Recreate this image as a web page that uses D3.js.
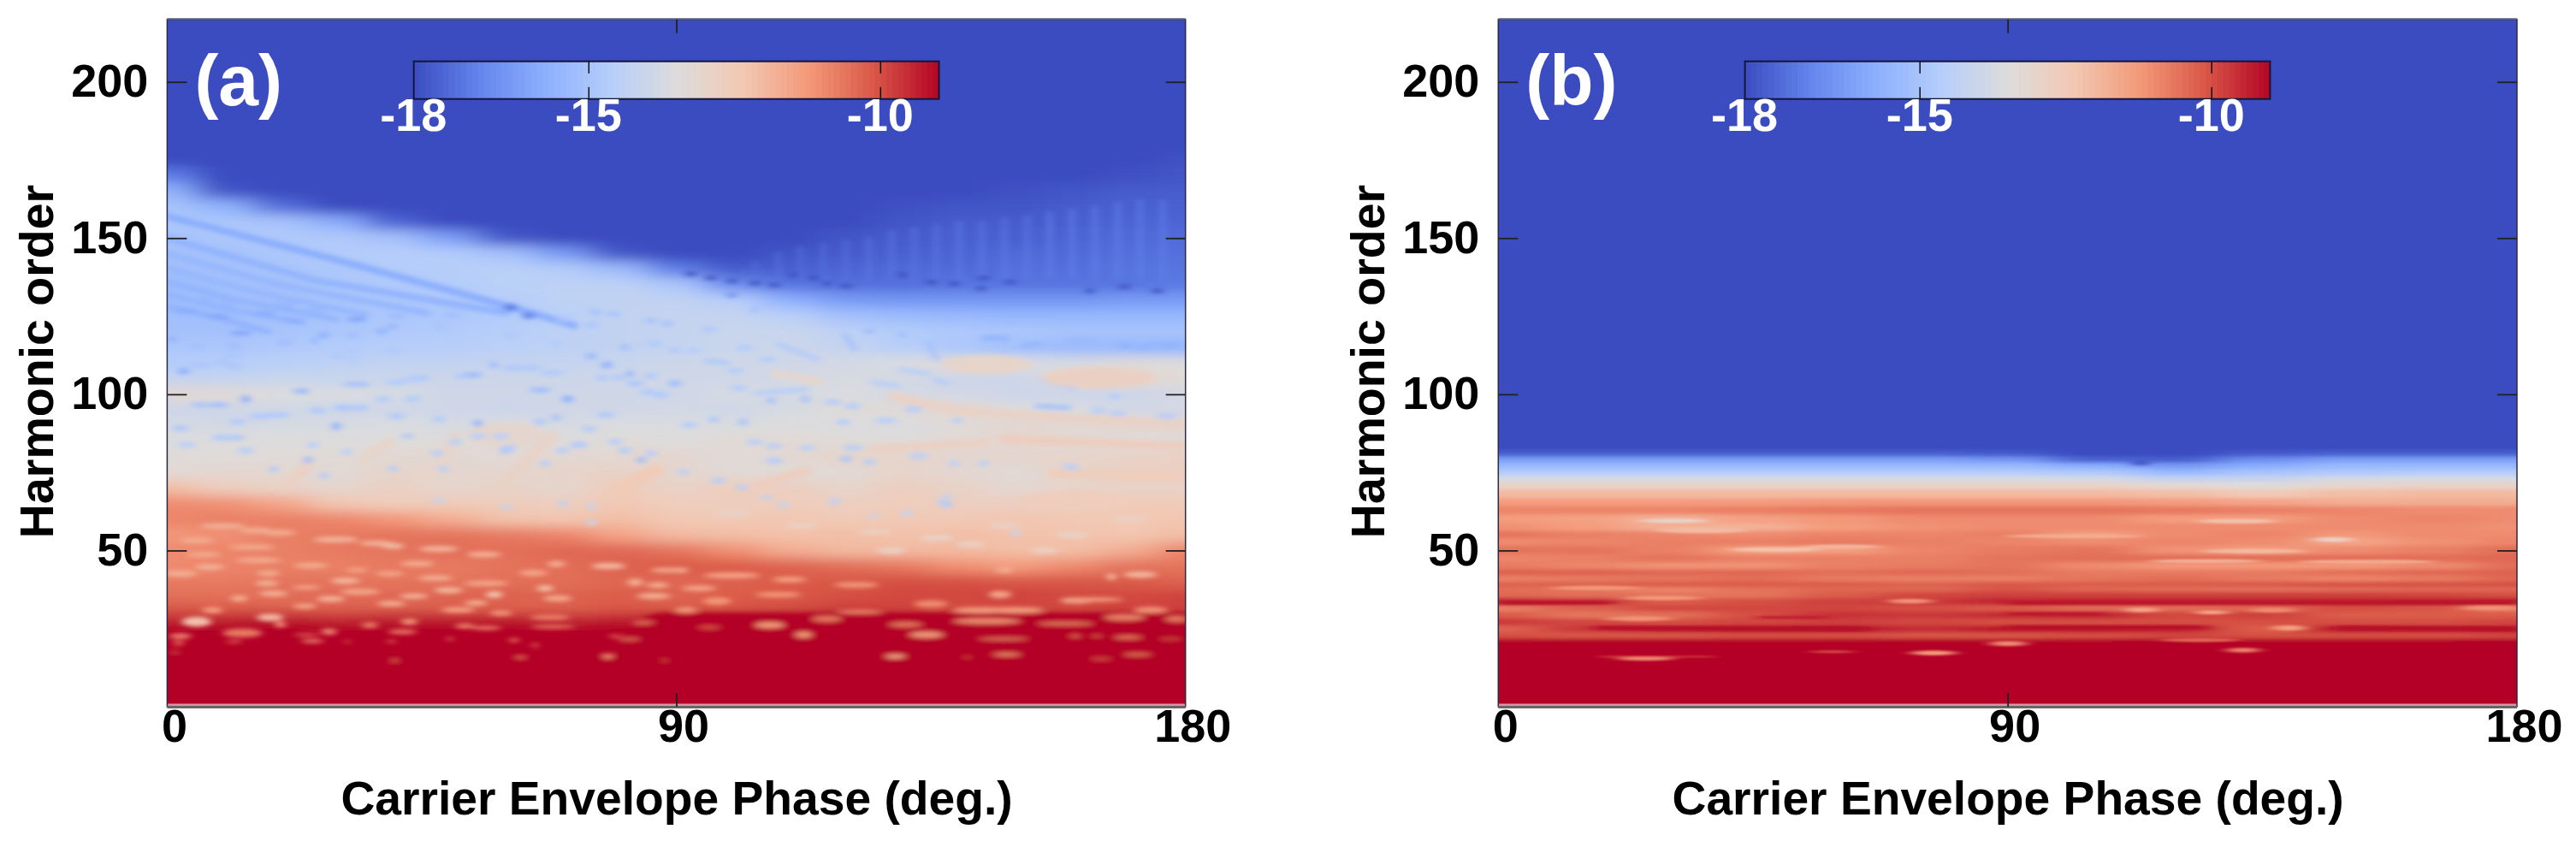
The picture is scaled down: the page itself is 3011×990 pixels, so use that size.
<!DOCTYPE html>
<html><head><meta charset="utf-8">
<script src="https://cdn.jsdelivr.net/npm/d3@7"></script>
<style>html,body{margin:0;padding:0;background:#fff}svg{display:block}text{font-family:"Liberation Sans",Arial,sans-serif;font-weight:700}</style>
</head><body><div id="chart"></div>
<script>
// ---- shared categories / ticks ----
const xTicks=[0,90,180];
const yTicks=[50,100,150,200];
const cbTicks=[-18,-15,-10];
const cbValues=d3.range(-18,-9,0.1);
const colorStopsV=[-18,-16.875,-15.75,-14.625,-13.5,-12.375,-11.25,-10.125,-9];
const colorStopsC=["#3b4cc0","#6485ec","#8db0fe","#b6cefa","#dddcdc","#f2c9b4","#f49a7b","#d95847","#b40426"];
const xTitle="Carrier Envelope Phase (deg.)";
const yTitle="Harmonic order";

// ---- panel (a) grid ----
const phasesA=[0,10,20,30,40,50,60,70,80,90,100,110,120,130,140,150,160,170,180];
const ordersA=[220,190,180,175,170,165,160,155,150,145,140,135,130,125,120,115,110,105,100,95,90,85,80,75,70,65,60,55,50,45,40,35,31,29,25,10,0];
const valuesA=[
[-18.5,-18.5,-18.5,-18.5,-18.5,-18.5,-18.5,-18.5,-18.5,-18.5,-18.5,-18.5,-18.5,-18.5,-18.5,-18.5,-18.5,-18.5,-18.5],
[-18.5,-18.5,-18.5,-18.5,-18.5,-18.5,-18.5,-18.5,-18.5,-18.5,-18.5,-18.5,-18.5,-18.5,-18.5,-18.5,-18.5,-18.5,-18.4],
[-18.5,-18.5,-18.5,-18.5,-18.5,-18.5,-18.5,-18.5,-18.5,-18.5,-18.5,-18.5,-18.5,-18.5,-18.5,-18.5,-18.3,-18.2,-18.1],
[-18.5,-18.5,-18.5,-18.5,-18.5,-18.5,-18.5,-18.5,-18.5,-18.5,-18.5,-18.5,-18.5,-18.5,-18.5,-18.3,-18.1,-18.0,-17.9],
[-17.0,-18.5,-18.5,-18.5,-18.5,-18.5,-18.5,-18.5,-18.5,-18.5,-18.5,-18.5,-18.5,-18.5,-18.3,-18.1,-18.0,-17.9,-17.8],
[-15.6,-17.8,-18.5,-18.5,-18.5,-18.5,-18.5,-18.5,-18.5,-18.5,-18.5,-18.5,-18.4,-18.2,-18.0,-17.9,-17.8,-17.7,-17.7],
[-15.0,-15.6,-17.3,-18.4,-18.5,-18.5,-18.5,-18.5,-18.5,-18.5,-18.5,-18.3,-18.1,-17.9,-17.8,-17.8,-17.7,-17.6,-17.6],
[-14.9,-14.9,-15.0,-15.8,-17.5,-18.3,-18.5,-18.5,-18.5,-18.5,-18.4,-18.2,-18.0,-17.8,-17.7,-17.7,-17.6,-17.5,-17.5],
[-15.1,-14.9,-14.8,-14.8,-15.1,-16.2,-17.8,-18.4,-18.5,-18.4,-18.2,-18.0,-17.8,-17.7,-17.6,-17.6,-17.5,-17.4,-17.4],
[-15.1,-15.1,-14.9,-14.7,-14.6,-14.7,-15.1,-16.3,-17.8,-18.3,-18.1,-17.8,-17.7,-17.6,-17.5,-17.4,-17.4,-17.3,-17.3],
[-15.2,-15.1,-15.0,-14.9,-14.7,-14.6,-14.5,-14.7,-15.3,-17.0,-17.7,-17.6,-17.5,-17.4,-17.4,-17.3,-17.3,-17.2,-17.2],
[-15.3,-15.2,-15.1,-14.9,-14.8,-14.7,-14.5,-14.4,-14.4,-14.9,-16.6,-17.2,-17.3,-17.3,-17.2,-17.2,-17.2,-17.2,-17.1],
[-15.3,-15.2,-15.1,-15.0,-14.9,-14.8,-14.6,-14.4,-14.3,-14.3,-14.6,-15.7,-16.3,-16.4,-16.4,-16.4,-16.4,-16.3,-16.3],
[-15.2,-15.2,-15.1,-15.0,-14.9,-14.9,-14.7,-14.5,-14.3,-14.2,-14.2,-14.5,-15.1,-15.3,-15.4,-15.5,-15.5,-15.5,-15.5],
[-15.1,-15.1,-15.0,-14.9,-14.8,-14.7,-14.6,-14.4,-14.3,-14.2,-14.1,-14.1,-14.4,-14.7,-14.8,-14.9,-15.0,-15.0,-15.0],
[-14.9,-14.9,-14.8,-14.7,-14.6,-14.6,-14.5,-14.4,-14.3,-14.2,-14.1,-14.0,-14.2,-14.6,-14.9,-15.2,-15.4,-15.5,-15.6],
[-14.7,-14.6,-14.5,-14.4,-14.3,-14.3,-14.2,-14.2,-14.1,-14.0,-13.9,-13.9,-13.8,-13.6,-13.4,-13.6,-13.7,-13.4,-13.5],
[-14.2,-14.2,-14.1,-14.1,-14.0,-14.0,-14.0,-14.0,-13.9,-13.9,-13.9,-13.8,-13.7,-13.8,-14.0,-14.0,-13.3,-13.2,-13.3],
[-13.2,-13.3,-13.5,-13.6,-13.7,-13.9,-13.9,-13.9,-13.9,-13.9,-13.7,-13.8,-13.6,-13.8,-13.8,-14.0,-14.0,-14.0,-13.8],
[-14.0,-14.0,-13.9,-13.9,-13.9,-13.9,-14.0,-13.9,-13.9,-13.8,-13.9,-13.7,-13.4,-13.3,-13.2,-13.5,-13.6,-13.8,-13.8],
[-13.7,-13.8,-13.7,-13.7,-13.6,-13.7,-13.6,-13.7,-13.6,-13.6,-13.6,-13.5,-13.6,-13.6,-13.4,-13.1,-13.2,-13.1,-13.1],
[-13.6,-13.5,-13.5,-13.5,-13.5,-13.4,-13.3,-13.5,-13.4,-13.5,-13.3,-13.3,-13.4,-13.4,-13.3,-13.2,-13.4,-13.5,-13.4],
[-13.4,-13.4,-13.4,-13.3,-13.2,-13.2,-13.3,-13.2,-13.2,-13.1,-13.4,-13.2,-13.0,-13.0,-13.1,-13.1,-13.0,-12.9,-12.8],
[-13.3,-13.2,-13.2,-13.3,-13.0,-13.1,-13.1,-13.0,-12.9,-13.1,-13.3,-13.4,-13.3,-13.0,-13.2,-13.3,-13.0,-12.8,-12.8],
[-12.1,-12.6,-12.9,-13.1,-12.8,-13.1,-12.9,-13.1,-12.5,-12.9,-12.6,-12.7,-13.0,-12.7,-12.9,-13.2,-13.0,-12.9,-12.9],
[-11.0,-11.1,-11.5,-12.3,-12.6,-12.5,-12.6,-12.7,-12.4,-12.6,-12.7,-12.6,-12.7,-12.6,-12.7,-12.7,-12.6,-12.5,-12.5],
[-10.9,-10.8,-10.8,-10.9,-11.2,-11.7,-12.2,-12.3,-12.1,-12.4,-12.4,-12.3,-12.5,-12.4,-12.4,-12.3,-12.4,-12.4,-12.3],
[-11.2,-11.1,-10.8,-10.7,-10.6,-10.6,-10.7,-10.9,-11.5,-12.0,-12.1,-12.2,-12.1,-12.2,-12.1,-12.2,-12.2,-12.3,-12.1],
[-11.0,-10.9,-10.8,-10.7,-10.6,-10.5,-10.5,-10.4,-10.4,-10.6,-11.1,-11.7,-12.0,-12.0,-12.0,-12.1,-12.1,-11.7,-10.9],
[-11.0,-10.9,-10.8,-10.8,-10.7,-10.7,-10.6,-10.5,-10.3,-10.2,-10.2,-10.3,-10.5,-10.7,-11.1,-11.3,-11.0,-10.6,-10.6],
[-10.7,-10.7,-10.6,-10.6,-10.6,-10.6,-10.5,-10.5,-10.4,-10.4,-10.3,-10.2,-10.1,-10.0,-10.0,-10.1,-10.1,-10.2,-10.3],
[-10.5,-10.5,-10.5,-10.4,-10.4,-10.3,-10.3,-10.3,-10.2,-10.3,-10.2,-10.1,-10.0,-9.9,-9.9,-9.8,-9.9,-9.9,-9.8],
[-10.1,-10.2,-10.3,-10.3,-10.3,-10.3,-10.3,-10.3,-10.2,-10.2,-10.1,-10.0,-9.8,-9.9,-10.0,-10.0,-10.0,-9.9,-9.9],
[-9.6,-9.5,-9.3,-9.6,-9.4,-9.4,-9.4,-9.6,-9.4,-9.0,-9.0,-9.0,-9.0,-9.0,-9.0,-9.0,-9.0,-9.0,-9.0],
[-9,-9,-9,-9,-9,-9,-9,-9,-9,-9,-9,-9,-9,-9,-9,-9,-9,-9,-9],
[-9,-9,-9,-9,-9,-9,-9,-9,-9,-9,-9,-9,-9,-9,-9,-9,-9,-9,-9],
[-9,-9,-9,-9,-9,-9,-9,-9,-9,-9,-9,-9,-9,-9,-9,-9,-9,-9,-9]
];
// thin ridges read from (a): value, width in orders, then phase/order pairs
const ridgesA=[
[-8.9,30,[88,15],[184,15]],
[-8.9,17,[-8,8.5],[92,8.5]],
[-15.8,2.2,[0,157],[30,143],[61,127.8],[72,122]],
[-15.6,2.1,[0,150],[26,136.5],[60,126]],
[-15.5,2,[0,145],[20,135],[46,126]],
[-15.5,1.9,[0,140.5],[15,133],[35,125.5]],
[-15.6,1.8,[0,136],[14,129.5],[30,124]],
[-15.6,1.7,[0,132],[10,127.5],[24,123]],
[-15.7,1.6,[0,128],[8,125],[18,120]],
[-17.2,1,[104,137],[104,142]],[-17.2,1,[108,137],[108,145]],[-17.2,1,[112,137],[112,147]],[-17.2,1,[116,137],[116,148]],[-17.2,1,[120,137],[120,149]],[-17.1,1,[124,137],[124,150]],[-17.1,1,[128,137],[128,152]],[-17.1,1,[132,137],[132,153]],[-17.1,1,[136,137],[136,154]],[-17.0,1,[140,137],[140,155]],[-17.0,1,[144,137],[144,155]],[-17.0,1,[148,137],[148,156]],[-17.0,1,[152,137],[152,157]],[-16.9,1,[156,137],[156,158]],[-16.9,1,[160,137],[160,159]],[-16.9,1,[164,137],[164,160]],[-16.9,1,[168,137],[168,161]],[-16.9,1,[172,137],[172,162]],[-16.9,1,[176,137],[176,162]],
[-15.6,1.6,[144.3,118],[148.4,117.9]],[-15.5,1.6,[151.3,115.3],[154.2,116.2]],[-15.4,1.6,[159.4,117.2],[164,117.2]],
[-15.6,1.6,[168.6,115.6],[170.3,115.6]],[-15.6,1.6,[172,114.9],[174.4,115.8]],[-15.6,1.6,[176.1,115.3],[178.4,115.8]],
[-15.2,1.3,[134.5,116.7],[136,111.2]],[-15.3,1.3,[119.8,119],[121.5,114.4]],[-14.8,1.3,[107.9,116.2],[114.9,111.2]],
[-14.9,1.3,[95.2,110.8],[99,109.9]],[-15.2,1.4,[153.6,96.2],[159.4,95.7]],[-14.7,1.2,[129.3,108],[134.5,106.7]],
[-14.8,1.2,[135.7,104.8],[138,103.5]],[-14.7,1.2,[154.7,104.4],[160.5,101.6]],[-14.7,1.2,[124.7,103.9],[129.3,102.6]],
[-14.7,1.2,[103.9,100.3],[113.1,101.6]],
[-12.9,3,[128.2,99.4],[139.7,94.8],[153.6,93],[179.6,90.2]],
[-13.1,2.5,[107.3,106.7],[115.4,103.9]],
[-12.7,3,[147.8,85.7],[179.6,83.4]],
[-12.8,2.5,[124.7,82.5],[144.9,84.7]],
[-12.6,3,[156.5,74.7],[179.6,73.8]],
[-12.7,3,[104.5,71],[113.1,75.6]],
[-12.8,3.4,[20.8,70.2],[24.9,77.5]],
[-13.0,3,[34.7,79.3],[39.3,84.8]],
[-12.9,3.4,[57.8,69.2],[68.2,86.6]],
[-12.5,4,[79.8,70],[86.7,75.6]],
[-13.0,3,[46.2,72],[50.9,86.6]]
];
// blobs: phase, order, half-width in deg, half-height in order, value
const spotsA=[
[9.8,57.8,4,.9,-11.8],[15.6,56.4,3,.9,-11.7],[19.7,55.7,3,.9,-11.7],[5.2,53.2,3,.9,-11.7],[29.8,53.5,4,.9,-11.9],[37,52.3,3,.9,-11.8],[39.9,51.4,2,.9,-12],[15,51.1,4,.9,-11.6],[48,50.5,3.5,.9,-11.9],[56,48.7,3,1,-11.7],[6.4,48.7,3,.9,-11.6],[16.2,46.9,4,.9,-11.6],[25.4,45.2,3,.9,-11.7],[7.5,44.7,2.5,1,-11.8],[44.2,45.8,3,.9,-11.7],[68.8,45.7,1.6,1,-11.7],[78,45,3,1,-12],[88.4,43.7,3,.8,-11.6],[64.7,42.8,2.5,1,-11.5],[2.3,42.6,3,1.1,-11.7],[17.9,42.7,2,1,-11.6],[33.5,43.7,2,.8,-11.4],[39.3,42.6,2.5,.9,-11.5],[47.4,41.2,3,.9,-11.7],[31.5,40.3,2.5,1,-11.9],[17.6,39.5,2,1,-11.7],[56.4,39.5,4,.9,-11.5],[82.7,39.8,1.4,1.2,-11.7],[86.7,38.9,2,.9,-11.7],[66.8,37.9,1.5,1,-12.1],[24.6,38.2,2.5,.7,-11.5],[49.7,37.3,2.5,1,-11.9],[34.1,36.8,3.5,1,-11.5],[18.8,36.2,2.5,.9,-11.8],[57.8,35.9,1.5,1.1,-12.2],[43.6,35.4,2.5,.9,-11.8],[12.7,34.7,1.5,1,-11.7],[28.9,34.5,2.5,1,-11.8],[69,34.7,2.5,1,-11.6],[86,35.4,3,1,-11.7],[54.6,33.2,2,.9,-11.7],[39.6,33,2.5,.9,-11.7],[24.3,32.2,2,.9,-11.5],[8,30.9,1.8,1,-11.4],[51.4,31,3,.9,-11.4],[59,30,2,.9,-11.2],[18.2,28.6,2.4,1.2,-12],[5.2,27.2,2.6,1.6,-12.2],[20,26.3,1,1,-11.2],[42.8,27.2,1.5,1,-11.2],[67.6,28.6,3.5,.8,-10.9],[35.8,26.1,1.5,1,-10.7],[52.6,25.8,1.8,.8,-10.9],[56.4,25.2,2.6,.7,-10.8],[68.2,25.6,4,.6,-10.7],[84.1,26.9,2,.6,-10.5],[13.3,23.6,3.5,1.4,-10.7],[28.6,24,1.4,1,-11],[41.6,24,2.6,.8,-10.7],[2.3,22.6,2,.9,-10.9],[2,20.4,1,.8,-10.4],[25.7,21,2,.6,-11],[24.6,23,2.2,.6,-10.1],[11.8,20.8,1.5,.4,-10.6],[31.8,20.8,.5,.4,-10.6],[39.6,20.8,.8,.4,-10.6],[50,21.7,.5,.6,-10.6],[61.3,21.3,.9,.7,-10.6],[65,19.7,.5,.6,-10.9],[79.2,22.6,1.2,.5,-10.4],[81.5,21.6,2,.4,-10.6],[1.4,17.8,.4,.5,-10.6],[40.2,14.8,.6,.5,-10.4],[62.4,15.8,1,.4,-10.6],[77.9,16.2,.9,.9,-11],[87.9,14.8,.4,.5,-10.2],
[90.9,43.7,1.2,.9,-11.7],[99.8,42,5,.9,-11.5],[110,40.7,3,.9,-11.4],[94,37.9,3,.9,-11.5],[121.8,39,4,.9,-11.2],[108,35.9,4,.9,-11.2],[97.2,33.8,2.5,1.2,-11.2],[91.7,31,2,1,-11.2],[147.2,35.9,2,1.2,-11.5],[148,43.8,1.5,1,-11.7],[166.9,41.6,.8,1,-12.2],[172,42.3,3,1,-12],[160.8,34,3,.9,-11.8],[164,34.3,5,.7,-11.4],[135,32.9,3,1.2,-11],[143.8,30.9,5,1,-11.3],[150,30.9,5,1,-11.3],[173.8,31,3,1,-11.2],[122.4,30.4,4,.7,-10.9],[106.5,26.1,2.6,1,-11.2],[116.6,28.1,2.6,1,-10.6],[130.5,26.3,3,.8,-10.6],[112.5,23,1.5,1,-11.2],[134.2,23,3,1,-11.2],[144.9,27.4,6,.9,-11],[158.8,26.6,5,.6,-10.6],[169.2,28.6,3.6,1,-10.8],[178.4,28.1,2,1,-10.6],[95.8,25.4,2,.6,-10],[147.8,21.7,4.5,.4,-10.8],[169.8,22.2,2.5,.6,-10.6],[160.5,22.6,1,.5,-10.4],[164.3,22.6,1,.4,-10.2],[177.3,21.7,2,.3,-10.2],[128.7,16.1,1.8,.7,-11.5],[148.4,16.7,2.5,.6,-10.8],[171.5,16.7,2.4,.5,-10.6],[165.1,15.3,1.8,.4,-10.1],[141.4,15.8,.8,.3,-10],
// pale blobs in the upper part of the warm band
[100,62,3,1,-12.9],[112,58,3,1,-12.8],[125,56,3,1,-12.7],[136,54,3,1,-12.9],[148,58,3,1,-12.8],[160,55,3,1,-12.9],[170,60,3,1,-12.8],[128,50,2.5,1,-12.9],[155,50,2.5,1,-12.8],[142,52,2.5,1,-12.8],
// peach blobs
[144.9,109.4,8,3,-13.0],[164.6,105.3,10,3.5,-12.8],[60,87,7,4,-13.1],[160,66,10,3,-12.6],
// dark-blue flecks
[60.7,127.8,1.2,1.2,-17],[63.9,125.2,1.2,1.1,-16.8],[2.9,107.4,1,1,-15.8],[13.9,98.5,.9,1.2,-15.6],[23.7,101,1.5,.8,-15.5],[29.9,89.8,.8,1.2,-15.7],[54.9,90.7,.8,1.1,-15.6],[70.8,98.5,1,1.1,-15.8],[77.7,109.4,1,1.1,-15.7],[81.8,106.5,.6,1.1,-15.6],[24.9,79,.9,1,-15.3],[83.8,79,.8,1,-15.4],[27.7,119,1,1,-15.7],[37.9,120.2,1,1,-15.6],[39.9,121.7,.7,1,-15.6],[33.5,124,1.8,.8,-16],[13,119.6,2,.8,-16],[9,124.9,2,.8,-16],[17.3,125.9,1.8,.8,-15.9],[3.2,126.8,2,.8,-15.9],[22.5,123.6,1.8,.7,-15.9],[.9,117.6,.8,1,-15.6],[26,117.2,.8,1,-15.4],[74.9,112.2,1,1,-15.4],[57.8,109.4,.8,1,-15.3],[80.9,115.1,.8,1,-15.2],[53.8,106.2,2,.8,-15.4],[44.5,105.3,2,.8,-15.2],[33.5,103.2,2.5,.7,-15.2],[65.9,101.4,2,.8,-15.3],[89.6,103.5,1,1,-15.3],[68.8,92.5,.8,1,-15.2],[59.8,82,.9,1,-15.2],[9,96.6,2,.7,-15.3],[5.8,96.6,1.5,.7,-15.2],[11.8,86.1,2,.7,-15.1],[42.5,86.6,1,.7,-15.1],[18.8,76,.8,1,-14.8],[27.7,74,.8,1,-14.8],[2.3,89.2,1.5,.8,-15],[72.8,83.8,1.5,.8,-15],
[106.8,98,.8,1,-15.2],[112.8,98.4,.8,1,-15.2],[101.8,91.1,.8,1.2,-15],[96.6,92,.8,1,-15],[120,79.3,1,1,-15],[97.5,72.4,1,1,-15],[107.9,78.8,.7,1,-14.9],[90.3,103.5,.6,1,-15.2],[103.9,127.2,.7,1.1,-15.1],[99.8,131.8,1,.8,-16.5],[124.1,120.2,1,.8,-15.3],[129.9,119,.8,.8,-15.3],
// pale-blue mottling
[11.6,112.6,2,1,-14.9],[5.8,109.4,2,1,-14.9],[9.8,110.3,1.5,1,-14.9],[11.8,109,1.5,1,-14.9],[30,112.2,1.2,1,-14.8],[32.9,114,1.2,1,-14.8],[32.9,111.2,1.2,1,-14.7],[39.9,114,1.2,1,-14.8],[42.8,118.1,1.2,1,-14.7],[49.7,119.9,1.2,1,-14.8],[60.7,119,1.2,1,-14.8],[68.8,116.3,1.2,1,-14.7],[61.3,108.5,2,1,-14.8],[64.2,108.5,2,1,-14.8],[68.2,106.9,2,1,-14.7],[76.9,105.3,1.2,1,-14.8],[79.8,105.3,1.2,1,-14.8],[82.7,103.5,1.5,1,-14.9],[85.5,105.8,1.2,1,-14.8],[85,100.7,1.4,1,-14.8],[87.3,99.8,1.5,1,-14.8],[89.6,114,1.2,1,-14.7],[86.1,116.3,1.5,1,-14.7],[43.9,104.9,2,1,-14.7],[40.5,103.9,2,1,-14.7],[52,105.8,1.2,1,-14.8],[31.2,95.7,2,1,-14.9],[26.6,94.8,1.5,1,-14.8],[16.8,93,2.5,.9,-14.8],[19.7,93.4,2,.9,-14.8],[12.4,91.2,1.5,.9,-14.8],[9.8,86.1,2,1,-14.7],[40.5,93,1.5,1,-14.8],[48,92.1,1.2,1,-14.7],[34.1,95.7,1.5,1,-14.8],[38.2,98.5,1.5,1,-14.7],[43.4,98.5,1.5,1,-14.7],[65.9,91.2,1.2,1,-14.8],[77.5,93.4,1.5,1,-14.8],[74.6,88.9,1.2,1,-14.7],[72.8,83.8,1.6,1,-14.8],[60.4,82.9,1.4,1,-14.7],[69.9,82,1.2,1,-14.6],[80.9,82,1.2,1,-14.7],[85.5,81.1,1,1,-14.6],[54.9,86.6,1.4,1,-14.6],[50.9,84.8,1,1,-14.7],[59,86.6,1.4,1,-14.6],[47.7,81.1,1,1,-14.7],[39.9,76.1,.9,1,-14.6],[48.8,76.1,.9,1,-14.6],[66.8,77.9,.9,1,-14.6],[31.8,81.6,1,1,-14.5],[25.7,83.8,1,1,-14.6],[3.5,83.8,1.5,.9,-14.6],[13.9,82,1.5,.9,-14.6],[79.2,84.8,1.2,1,-14.6],
[5.8,130.4,2.5,.9,-15.5],[11.6,129.5,2.5,.9,-15.5],[20.2,128.6,2.5,.9,-15.5],[26,126.8,2,.9,-15.4],[40.5,125,1.5,.9,-15.3],[50.3,125.4,1.5,.9,-15.2],[69.9,124,1.2,1,-15],[75.7,126.3,1.2,.9,-15],[78.9,125.7,1.2,.9,-15],[85.5,123.6,1.2,.9,-15],[88.4,122.6,1.2,.9,-15],[75.1,122.2,1.2,1,-14.9],[48,121.7,1.2,1,-15],[32.9,119,1.2,1,-15.2],[20.8,116.7,1.5,1,-15.2],[11.8,115.4,1.5,1,-15.2],[5.2,115.4,1.5,1,-15.1],
[95.8,120.8,1.5,.9,-14.8],[102.1,114.9,1.5,.9,-14.7],[106.2,111.2,1.5,.9,-14.7],[100.4,107.6,1.5,.9,-14.7],[92.9,114,1.5,.9,-14.6],[101,102,1.5,.9,-14.7],[92.3,90.2,1.5,.9,-14.7],[103.9,84.7,1.5,.9,-14.6],[107.3,83.4,1.5,.9,-14.6],[113.1,82.9,1.5,.9,-14.5],[121.2,82.9,1.8,.9,-14.6],[124.1,78.3,1,.9,-14.7],[132.8,80.2,1.6,1,-14.5],[139.1,77.9,1,.9,-14.5],[144.3,77.9,1,.9,-14.5],[159.4,77,1.2,.9,-14.4],[91.2,75.1,1,.9,-14.6],[101.6,70.1,1,.9,-14.6],[117.7,97.5,1.5,.9,-14.7],[121.2,96.2,1.5,.9,-14.7],[131.9,95.2,1.5,.9,-14.7],[127,91.6,2,.9,-14.6],[119.5,91.1,1.2,.9,-14.7],[139.7,91.6,1,.9,-14.6],[167.5,99.4,1,.9,-14.7],[168,93.9,1.5,.9,-14.6],[164.6,94.8,1.5,.9,-14.6],[176.7,93,2,.9,-14.6],
[97.2,72.4,1,1,-14.6],[107,78.8,1.2,1,-14.6],[138,64.6,.8,1,-14.8],[138,67.3,.8,.9,-14.4],[150,55.5,.8,.9,-14.2],[130.5,61.9,.8,.9,-14.2],[118,65.5,1,.9,-14.3],[109,64.6,1,.9,-14.2],[160,76.5,1.2,.9,-14.5],[70,65,.8,1,-14.4],[75,64,.7,.9,-14.4],[60,64,.8,.9,-14.4],[75,59,.8,1,-14.2],[48,66,1,.8,-14.3],[106,67,.9,.9,-14.3],[118,66,.8,.8,-14.3],[137,65.5,.8,1,-14.7],[131,62,.8,.9,-14.2],[125,61,.7,.8,-14.2],
// dark dashes along the hatched edge
[92.6,138.6,1.2,.6,-18.5],[96.1,137.3,1.2,.6,-18.5],[99.8,136.3,1.2,.6,-18.5],[103.9,135.6,1.2,.6,-18.5],[107.3,135,1.2,.6,-18.5],[110.8,138.2,1,.6,-18.5],[114.3,137.3,1.2,.6,-18.5],[116.6,135.4,1,.6,-18.5],[120,134.7,1.2,.6,-18.5],[129.9,138.2,1.2,.6,-18.5],[135.1,135.9,1.2,.6,-18.5],[139.1,135.4,1.2,.6,-18.5],[143.8,133.9,1,.6,-18.5],[144.3,137.3,1.2,.6,-18.5],[149,135.9,1.2,.6,-18.5],[163.1,133.1,1,.6,-18.5],[169.2,134.5,1.2,.6,-18.5],[175,133.1,1.2,.6,-18.5]
];

// ---- panel (b) grid ----
const phasesB=[0,15,30,45,60,75,90,105,120,135,150,165,180];
const ordersB=[220,90,83,81,79,77,75,73,71,68,65.5,63,60,57.5,55,53,50,47.5,45,43,41,39,37.5,36,33.5,31.5,29.5,27,25,22.5,21,10,0];
const valuesB=[
[-18.5,-18.5,-18.5,-18.5,-18.5,-18.5,-18.5,-18.5,-18.5,-18.5,-18.5,-18.5,-18.5],
[-18.5,-18.5,-18.5,-18.5,-18.5,-18.5,-18.5,-18.5,-18.5,-18.5,-18.5,-18.5,-18.5],
[-18.4,-18.4,-18.4,-18.4,-18.4,-18.4,-18.4,-18.4,-18.5,-18.4,-18.4,-18.4,-18.4],
[-17.6,-17.6,-17.6,-17.6,-17.6,-17.6,-17.7,-18.0,-18.0,-17.7,-17.6,-17.6,-17.6],
[-16.2,-16.2,-16.2,-16.2,-16.2,-16.2,-16.4,-17.5,-17.6,-16.6,-16.2,-16.2,-16.2],
[-15.4,-15.4,-15.4,-15.4,-15.4,-15.4,-15.4,-15.8,-16.3,-15.8,-15.4,-15.4,-15.4],
[-14.7,-14.7,-14.7,-14.7,-14.7,-14.7,-14.7,-14.8,-15.4,-15.0,-14.8,-14.7,-14.7],
[-13.7,-13.7,-13.7,-13.7,-13.7,-13.7,-13.7,-13.8,-14.3,-14.2,-13.8,-13.7,-13.7],
[-12.9,-12.9,-12.9,-12.9,-12.9,-12.9,-12.9,-12.9,-13.2,-13.4,-13.0,-12.9,-12.9],
[-12.0,-12.0,-12.0,-12.0,-12.0,-12.0,-12.0,-12.0,-12.1,-12.4,-12.1,-12.0,-12.0],
[-11.3,-11.3,-11.3,-11.3,-11.2,-11.2,-11.2,-11.2,-11.3,-11.5,-11.7,-11.7,-11.7],
[-10.9,-10.9,-10.9,-10.8,-10.7,-10.6,-10.6,-10.6,-10.7,-10.8,-10.9,-11.0,-11.0],
[-11.3,-11.4,-11.8,-11.4,-11.2,-11.0,-11.0,-11.0,-11.3,-11.3,-11.0,-10.9,-11.0],
[-11.1,-11.3,-11.7,-11.8,-11.3,-11.1,-11.0,-11.0,-11.0,-11.0,-11.0,-11.0,-11.1],
[-10.6,-10.8,-10.9,-11.0,-10.9,-10.9,-10.8,-11.3,-11.0,-10.9,-11.2,-11.0,-11.0],
[-11.0,-10.9,-10.8,-10.8,-10.7,-10.8,-10.9,-11.0,-10.9,-11.0,-11.5,-11.1,-10.9],
[-10.6,-10.6,-10.8,-11.3,-11.3,-10.9,-10.7,-10.6,-11.1,-11.3,-11.0,-10.8,-10.5],
[-10.9,-10.8,-10.6,-10.8,-10.8,-10.8,-10.6,-10.5,-10.5,-10.5,-10.5,-10.5,-10.4],
[-10.7,-10.9,-11.1,-11.1,-10.8,-10.7,-10.6,-11.0,-11.2,-11.2,-11.2,-11.0,-10.5],
[-10.3,-10.3,-10.4,-10.4,-10.5,-10.4,-10.5,-10.7,-10.7,-10.7,-10.5,-10.4,-10.3],
[-10.8,-10.7,-10.6,-10.5,-10.7,-10.8,-10.8,-10.6,-10.5,-10.7,-10.9,-10.7,-10.4],
[-10.3,-10.3,-10.2,-10.2,-10.2,-10.3,-10.1,-10.2,-10.2,-10.1,-10.0,-10.0,-10.0],
[-10.5,-10.6,-10.9,-10.6,-10.4,-10.4,-10.1,-10.4,-10.5,-10.6,-10.5,-10.4,-10.4],
[-10.4,-10.5,-10.6,-10.6,-10.2,-9.9,-9.8,-9.8,-9.8,-9.8,-9.8,-9.9,-10.0],
[-9.3,-9.5,-10.2,-10.0,-9.8,-9.7,-9.4,-9.3,-9.3,-9.3,-9.3,-9.2,-9.2],
[-10.8,-10.3,-9.9,-9.9,-9.9,-10.0,-10.2,-10.5,-10.5,-10.4,-10.0,-10.1,-10.8],
[-10.2,-10.6,-10.5,-10.0,-9.6,-9.7,-9.5,-9.4,-9.9,-9.8,-10.2,-10.2,-10.2],
[-9.7,-9.9,-10.0,-9.9,-9.8,-9.9,-10.0,-10.0,-10.0,-10.0,-10.0,-10.0,-9.9],
[-10.3,-9.7,-9.3,-9.1,-9.1,-9.5,-9.2,-9.2,-9.4,-10.2,-9.2,-9.2,-9.2],
[-10.0,-10.1,-10.1,-10.0,-10.0,-10.1,-10.1,-10.0,-9.9,-10.0,-10.0,-10.0,-9.9],
[-9,-9,-9,-9,-9,-9,-9,-9,-9,-9,-9,-9,-9],
[-9,-9,-9,-9,-9,-9,-9,-9,-9,-9,-9,-9,-9],
[-9,-9,-9,-9,-9,-9,-9,-9,-9,-9,-9,-9,-9]
];
const ridgesB=[
[-9.1,.9,[0,33.2],[20,33.3]],
[-9.3,.9,[46,28.6],[58,28.6]],
[-9.1,1.3,[17,25.2],[65,24.9]],
[-9.2,.9,[90,33.2],[180,33.2]],
[-9.2,.8,[90,29.8],[107,29.8]],
[-9.1,1.3,[90,25.4],[125,25.4]],
[-9.1,1.3,[148,25.2],[180,24.9]],
[-10.0,.4,[18,16],[38,16]]
];
const spotsB=[
[31,59.5,6,.7,-12.9],[36,56.5,8,1,-12],[49,50.3,8,.8,-12.2],[60.7,51.2,7,.7,-11.9],[17.3,38,8,.7,-11.2],[29,34.8,7,.7,-11.2],[72.8,33.8,4,.8,-11.1],[24.9,28.2,6,.8,-11.1],[26,15.4,5,.7,-10.9],[76.9,17.2,4,.8,-11.2],[59,17.6,4,.4,-10.1],[89.3,20.2,2.5,.8,-11],
[130.5,59.4,7,.7,-12.2],[147.5,53.5,3.5,.8,-12.8],[133.4,49.8,9,.7,-12],[101.6,54.6,12,.6,-11.7],[125,46.6,10,.6,-11.8],[153.6,46.4,12,.6,-11.7],[113.7,31,3,.8,-11.5],[126.1,30.2,3,.7,-11.5],[136.8,30.9,4,.8,-11],[175,31.6,5,.7,-11.1],[139.7,25.2,3,.9,-11.4],[124,21.3,7,.6,-10.4],[131.6,18.1,3,.8,-10.8],[90.9,20.2,2.5,.8,-11],
[113.5,78,1.2,1,-18.5]
];

// ---- drawing ----
const width=3011,height=990;
const color=d3.scaleLinear().domain(colorStopsV).range(colorStopsC).clamp(true);
const svg=d3.select("#chart").append("svg").attr("width",width).attr("height",height).attr("viewBox",[0,0,width,height]);
const defs=svg.append("defs");
function blur(id,sx,sy){defs.append("filter").attr("id",id).attr("filterUnits","userSpaceOnUse")
  .attr("x",0).attr("y",-150).attr("width",width).attr("height",height+300)
  .append("feGaussianBlur").attr("stdDeviation",sx+" "+sy);}
blur("baseA",20,7);blur("baseB",24,2.2);blur("fine",4,2.4);blur("fineB",8,1.2);

function panel(o){
  const x=d3.scaleLinear().domain([0,180]).range([o.left,o.right]);
  const y=d3.scaleLinear().domain([0,220]).range([826,22.7]);
  const g=svg.append("g");
  defs.append("clipPath").attr("id","clip"+o.id).append("rect")
    .attr("x",o.left).attr("y",y(220)).attr("width",o.right-o.left).attr("height",y(0)-y(220));
  const plot=g.append("g").attr("clip-path","url(#clip"+o.id+")");
  const pad=80;
  const xEdge=i=>i<=0?o.left-pad:i>=o.phases.length?o.right+pad:x((o.phases[i-1]+o.phases[i])/2);
  const yEdge=i=>i<=0?y(220)-pad:i>=o.orders.length?y(0)+pad:y((o.orders[i-1]+o.orders[i])/2);
  const cells=o.values.flatMap((row,r)=>row.map((v,c)=>({r,c,v})));
  plot.append("g").attr("filter","url(#"+o.baseBlur+")").selectAll("rect").data(cells).join("rect")
    .attr("x",d=>xEdge(d.c)).attr("y",d=>yEdge(d.r))
    .attr("width",d=>xEdge(d.c+1)-xEdge(d.c)+.6).attr("height",d=>yEdge(d.r+1)-yEdge(d.r)+.6)
    .attr("fill",d=>color(d.v));
  const detail=plot.append("g").attr("filter","url(#"+o.fineBlur+")");
  const line=d3.line().x(p=>x(p[0])).y(p=>y(p[1]));
  detail.selectAll("path").data(o.ridges).join("path")
    .attr("d",d=>line(d.slice(2))).attr("fill","none").attr("stroke-linecap","round")
    .attr("stroke",d=>color(d[0])).attr("stroke-width",d=>y(0)-y(d[1]));
  detail.selectAll("ellipse").data(o.spots).join("ellipse")
    .attr("cx",d=>x(d[0])).attr("cy",d=>y(d[1]))
    .attr("rx",d=>x(d[2])-x(0)).attr("ry",d=>y(0)-y(d[3])).attr("fill",d=>color(d[4]));
  // pale strip along the very bottom
  g.append("rect").attr("x",o.left).attr("y",y(0)-3.5).attr("width",o.right-o.left).attr("height",3.5).attr("fill","#dc93a8");

  // colour bar
  const cb=d3.scaleLinear().domain([-18,-9]).range([o.left+288.3,o.left+902.1]);
  const cbG=g.append("g");
  cbG.selectAll("rect").data(cbValues).join("rect")
    .attr("x",d=>cb(d)).attr("y",71.7).attr("width",(cb(-9)-cb(-18))/cbValues.length+.7).attr("height",44)
    .attr("fill",d=>color(d+.05));
  cbG.append("rect").attr("x",cb(-18)).attr("y",71.7).attr("width",cb(-9)-cb(-18)).attr("height",44)
    .attr("fill","none").attr("stroke","#14163a").attr("stroke-width",2);
  const cbAxis=cbG.append("g");
  cbAxis.selectAll("line").data(cbTicks.slice(1)).join("line").attr("x1",d=>cb(d)).attr("x2",d=>cb(d)).attr("y1",71.7).attr("y2",115.7)
    .attr("stroke","#111").attr("stroke-width",1.5).attr("stroke-dasharray","14 16 14");
  cbG.selectAll("text").data(cbTicks).join("text").attr("x",d=>cb(d)-.5).attr("y",153).attr("text-anchor","middle")
    .attr("font-size",54).attr("fill","#fff").text(d=>d);

  // axes
  const frame=g.append("g");
  frame.append("rect").attr("x",o.left).attr("y",y(220)).attr("width",o.right-o.left).attr("height",y(0)-y(220))
    .attr("fill","none").attr("stroke","#2a2a40").attr("stroke-width",1.5);
  frame.append("line").attr("x1",o.left).attr("x2",o.right).attr("y1",y(0)+.5).attr("y2",y(0)+.5).attr("stroke","#666").attr("stroke-width",3);
  frame.append("line").attr("x1",o.left).attr("x2",o.right).attr("y1",y(220)-.5).attr("y2",y(220)-.5).attr("stroke","#5a5f80").attr("stroke-width",2);

  const styleTicks=s=>{s.select(".domain").remove();s.selectAll("line").attr("stroke","#222").attr("stroke-width",1.8);};
  const ax=g.append("g").attr("transform",`translate(0,${y(0)})`)
    .call(d3.axisBottom(x).tickValues(xTicks).tickSize(-16).tickPadding(0));
  styleTicks(ax);
  ax.selectAll("text").attr("font-size",54).attr("fill","#000").attr("dx",8).attr("y",0).attr("dy",41);
  ax.selectAll(".tick").filter(d=>d===0||d===180).select("line").remove();
  const axTop=g.append("g").attr("transform",`translate(0,${y(220)})`)
    .call(d3.axisTop(x).tickValues([90]).tickSize(-16).tickFormat(""));
  styleTicks(axTop);
  const ay=g.append("g").attr("transform",`translate(${o.left},0)`)
    .call(d3.axisLeft(y).tickValues(yTicks).tickSize(-23).tickPadding(0));
  styleTicks(ay);
  ay.selectAll("text").attr("font-size",54).attr("fill","#000").attr("text-anchor","end").attr("x",-22).attr("dy",17);
  const ayR=g.append("g").attr("transform",`translate(${o.right},0)`)
    .call(d3.axisRight(y).tickValues(yTicks).tickSize(-23).tickFormat(""));
  styleTicks(ayR);

  g.append("text").attr("x",x(90)+.5).attr("y",951.5).attr("text-anchor","middle").attr("font-size",55.2).attr("fill","#000").text(xTitle);
  g.append("text").attr("transform",`translate(${o.left-133.5},422.5) rotate(-90)`).attr("text-anchor","middle").attr("font-size",55.5).attr("fill","#000").text(yTitle);
  g.append("text").attr("x",o.left+32).attr("y",122.5).attr("font-size",84).attr("fill","#fff").text(o.label);
}
panel({id:"A",label:"(a)",left:195.4,right:1385.7,phases:phasesA,orders:ordersA,values:valuesA,ridges:ridgesA,spots:spotsA,baseBlur:"baseA",fineBlur:"fine"});
panel({id:"B",label:"(b)",left:1751.3,right:2942,phases:phasesB,orders:ordersB,values:valuesB,ridges:ridgesB,spots:spotsB,baseBlur:"baseB",fineBlur:"fineB"});
</script></body></html>
